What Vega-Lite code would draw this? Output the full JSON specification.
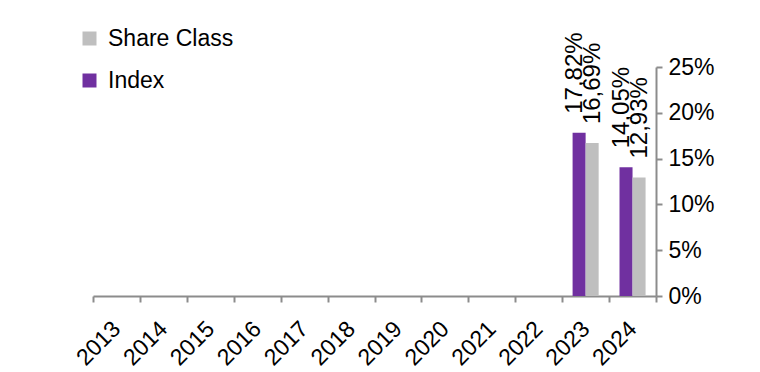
{
  "$schema": "https://vega.github.io/schema/vega-lite/v6.json",
  "autosize": "none",
  "width": 563,
  "height": 229,
  "padding": {"left": 93, "top": 67, "right": 104, "bottom": 76},
  "background": "white",
  "config": {
    "view": {"stroke": null},
    "locale": {"number": {"decimal": ",", "thousands": ".", "grouping": [3], "currency": ["", " €"]}},
    "font": "Liberation Sans",
    "axis": {"labelFont": "Liberation Sans"},
    "legend": {"labelFont": "Liberation Sans"},
    "text": {"font": "Liberation Sans"}
  },
  "data": {
    "values": [
      {"year": "2023", "series": "Index", "value": 0.1782},
      {"year": "2023", "series": "Share Class", "value": 0.1669},
      {"year": "2024", "series": "Index", "value": 0.1405},
      {"year": "2024", "series": "Share Class", "value": 0.1293}
    ]
  },
  "encoding": {
    "x": {
      "field": "year",
      "type": "nominal",
      "scale": {"domain": ["2013","2014","2015","2016","2017","2018","2019","2020","2021","2022","2023","2024"], "paddingInner": 0, "paddingOuter": 0},
      "axis": {
        "title": null,
        "tickBand": "extent",
        "labelAngle": -45,
        "labelAlign": "right",
        "labelBaseline": "middle",
        "labelFont": "Liberation Sans",
        "labelFontSize": 23,
        "labelColor": "#000000",
        "labelPadding": 23,
        "domainColor": "#8c8c8c",
        "domainWidth": 2,
        "tickColor": "#8c8c8c",
        "tickWidth": 2,
        "tickSize": 6,
        "grid": false
      }
    },
    "xOffset": {
      "field": "series",
      "type": "nominal",
      "sort": ["Index", "Share Class"],
      "scale": {"paddingOuter": 0.8, "paddingInner": 0}
    },
    "y": {
      "field": "value",
      "type": "quantitative",
      "scale": {"domain": [0, 0.25], "nice": false},
      "axis": {
        "orient": "right",
        "title": null,
        "format": ".0%",
        "values": [0, 0.05, 0.1, 0.15, 0.2, 0.25],
        "labelFont": "Liberation Sans",
        "labelFontSize": 23,
        "labelColor": "#000000",
        "labelPadding": 6,
        "domainColor": "#8c8c8c",
        "domainWidth": 2,
        "tickColor": "#8c8c8c",
        "tickWidth": 2,
        "tickSize": 6,
        "grid": false
      }
    }
  },
  "layer": [
    {
      "mark": {"type": "bar"},
      "encoding": {
        "color": {
          "field": "series",
          "type": "nominal",
          "scale": {"domain": ["Share Class", "Index"], "range": ["#BFBFBF", "#7030A0"]},
          "legend": {
            "title": null,
            "orient": "none",
            "legendX": -15,
            "legendY": -40,
            "symbolType": "square",
            "symbolSize": 196,
            "symbolStrokeWidth": 0,
            "labelFont": "Liberation Sans",
            "labelFontSize": 23,
            "labelColor": "#000000",
            "labelOffset": 7,
            "rowPadding": 18
          }
        }
      }
    },
    {
      "transform": [{"filter": "datum.series === 'Index'"}],
      "mark": {"type": "text", "angle": 270, "align": "left", "baseline": "middle", "dx": 19, "dy": -4, "font": "Liberation Sans", "fontSize": 24, "color": "#000000"},
      "encoding": {
        "text": {"field": "value", "type": "quantitative", "format": ".2%"}
      }
    },
    {
      "transform": [{"filter": "datum.series === 'Share Class'"}],
      "mark": {"type": "text", "angle": 270, "align": "left", "baseline": "middle", "dx": 19, "dy": 1, "font": "Liberation Sans", "fontSize": 24, "color": "#000000"},
      "encoding": {
        "text": {"field": "value", "type": "quantitative", "format": ".2%"}
      }
    }
  ]
}
